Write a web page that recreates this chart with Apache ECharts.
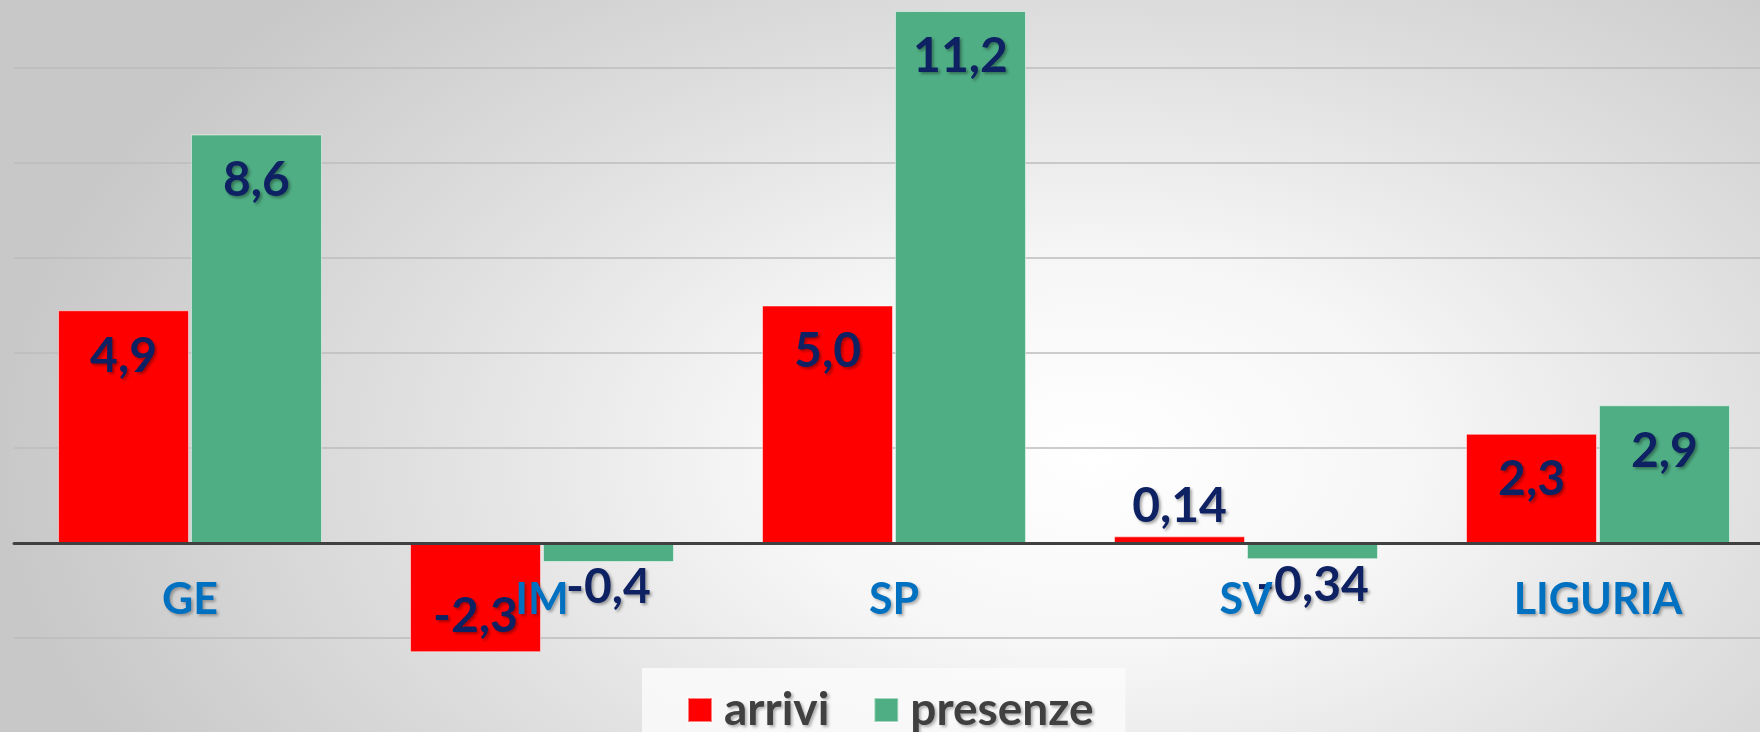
<!DOCTYPE html>
<html>
<head>
<meta charset="utf-8">
<script src="https://cdn.jsdelivr.net/npm/echarts@6/dist/echarts.min.js"></script>
<style>
  html, body { margin: 0; padding: 0; }
  #main {
    width: 1760px; height: 732px;
    background: radial-gradient(ellipse 62% 90% at 62% 62%, #ffffff 0%, #f6f6f6 30%, #dedede 65%, #c8c8c8 100%);
  }
</style>
</head>
<body>
<div id="main"></div>
<script>
// dati (variazioni %)
var province = ['GE', 'IM', 'SP', 'SV', 'LIGURIA'];
var arrivi = [4.9, -2.3, 5.0, 0.14, 2.3];
var presenze = [8.6, -0.4, 11.2, -0.34, 2.9];
var arriviTesti = ['4,9', '-2,3', '5,0', '0,14', '2,3'];
var presenzeTesti = ['8,6', '-0,4', '11,2', '-0,34', '2,9'];

var chart = echarts.init(document.getElementById('main'));

// posizione etichetta in base al valore
function item(v, txt){
  var pos, dist;
  if (v >= 1) { pos = 'insideTop'; dist = 22; }
  else if (v >= 0) { pos = 'top'; dist = 6; }
  else if (v <= -1) { pos = 'insideBottom'; dist = 12; }
  else { pos = 'bottom'; dist = 2; }
  return { value: v, label: { position: pos, distance: dist, formatter: txt } };
}

var labelStyle = {
  show: true,
  fontFamily: 'Lato',
  fontWeight: 'bold',
  fontSize: 48,
  color: '#0e2163',
  textShadowColor: 'rgba(0,0,0,0.35)',
  textShadowBlur: 3,
  textShadowOffsetX: 2,
  textShadowOffsetY: 2
};

chart.setOption({
  backgroundColor: 'transparent',
  animation: false,
  grid: { left: 14, top: -27, width: 1760, height: 760, containLabel: false, outerBoundsMode: 'none' },
  legend: {
    left: 642, top: 668,
    backgroundColor: 'rgba(250,250,250,0.85)',
    padding: [19, 32, 20, 45],
    itemWidth: 24, itemHeight: 24, itemGap: 44,
    icon: 'rect',
    data: ['arrivi', 'presenze'],
    textStyle: {
      fontFamily: 'Lato', fontWeight: 'bold', fontSize: 46, color: '#404040',
      padding: [0, 0, 0, 7],
      textShadowColor: 'rgba(0,0,0,0.3)', textShadowBlur: 3,
      textShadowOffsetX: 2, textShadowOffsetY: 2
    }
  },
  xAxis: {
    type: 'category',
    data: province,
    z: 10,
    offset: -190,
    axisLine: { onZero: false, lineStyle: { color: '#404040', width: 3 } },
    axisTick: { show: false },
    axisLabel: {
      interval: 0, margin: 36,
      fontFamily: 'Lato', fontWeight: 'bold', fontSize: 43, color: '#0070c0',
      textShadowColor: 'rgba(0,0,0,0.3)', textShadowBlur: 3,
      textShadowOffsetX: 2, textShadowOffsetY: 2
    }
  },
  yAxis: {
    type: 'value',
    min: -4, max: 12, interval: 2,
    axisLabel: { show: false },
    axisLine: { show: false },
    axisTick: { show: false },
    splitLine: { lineStyle: { color: '#bdbdbd', width: 1.5 } }
  },
  series: [
    {
      name: 'arrivi', type: 'bar',
      barWidth: 131, barGap: '1.5%',
      itemStyle: { color: '#ff0000', borderColor: 'rgba(255,255,255,0.5)', borderWidth: 1 },
      label: labelStyle,
      data: arrivi.map(function(v, i){ return item(v, arriviTesti[i]); })
    },
    {
      name: 'presenze', type: 'bar',
      barWidth: 131,
      itemStyle: { color: '#4fae84', borderColor: 'rgba(255,255,255,0.5)', borderWidth: 1 },
      label: labelStyle,
      data: presenze.map(function(v, i){ return item(v, presenzeTesti[i]); })
    }
  ]
});
</script>
</body>
</html>
